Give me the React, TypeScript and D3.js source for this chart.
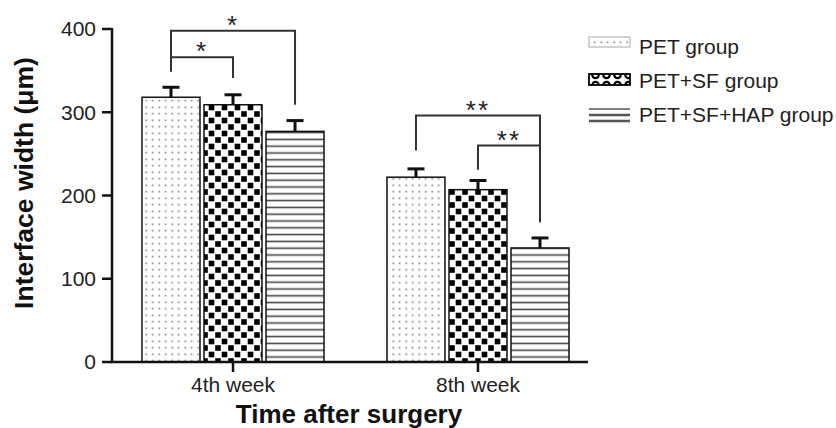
import React from 'react'
import * as d3 from 'd3'

const weeks = ['4th week', '8th week']
const groups = ['PET group', 'PET+SF group', 'PET+SF+HAP group']
const means = [
  [318, 309, 277],
  [222, 207, 137],
]
const errors = [
  [12, 12, 13],
  [10, 11, 12],
]
const yTicks = [0, 100, 200, 300, 400]
// significance brackets, heights in data units
const brackets = [
  { week: 0, a: 0, b: 2, y: 398, aEnd: 349, bEnd: 309, label: '*' },
  { week: 0, a: 0, b: 1, y: 366, aEnd: 349, bEnd: 341, label: '*' },
  { week: 1, a: 0, b: 2, y: 296, aEnd: 254, bEnd: 168, label: '**' },
  { week: 1, a: 1, b: 2, y: 260, aEnd: 231, bEnd: 168, label: '**' },
]

const fills = ['url(#dots)', 'url(#checker)', 'url(#stripes)']
const font = '"Liberation Sans", Arial, Helvetica, sans-serif'

export default function App() {
  const width = 836
  const height = 428
  const axisX = 112
  const axisEnd = 588

  const y = d3.scaleLinear().domain([0, 400]).range([362, 29])
  const x0 = d3.scaleBand().domain(weeks).range([142, 569]).paddingInner(0.257).paddingOuter(0)
  const x1 = d3.scaleBand().domain(groups).range([0, x0.bandwidth()]).paddingInner(0.065)

  const cx = (w: number, g: number) => x0(weeks[w])! + x1(groups[g])! + x1.bandwidth() / 2

  return (
    <svg width={width} height={height} style={{ position: 'absolute', left: 0, top: 0, background: '#fff' }} fontFamily={font}>
      <defs>
        <pattern id="dots" patternUnits="userSpaceOnUse" width={6.5} height={6.5}>
          <rect width={6.5} height={6.5} fill="#fff" />
          <circle cx={3.2} cy={3.2} r={0.9} fill="#777" />
        </pattern>
        <pattern id="checker" patternUnits="userSpaceOnUse" width={13} height={13}>
          <rect width={13} height={13} fill="#fff" />
          <rect x={0.7} y={0.7} width={5.6} height={5.6} fill="#000" />
          <rect x={7.2} y={7.2} width={5.6} height={5.6} fill="#000" />
        </pattern>
        <pattern id="stripes" patternUnits="userSpaceOnUse" width={8} height={6.8}>
          <rect width={8} height={6.8} fill="#fff" />
          <line x1={0} x2={8} y1={3.4} y2={3.4} stroke="#444" strokeWidth={1.6} />
        </pattern>
        <pattern id="rings" patternUnits="userSpaceOnUse" width={11} height={10} x={590} y={0}>
          <rect width={11} height={10} fill="#fff" />
          <circle cx={5.5} cy={5} r={3.2} fill="none" stroke="#000" strokeWidth={2.2} />
        </pattern>
      </defs>

      {/* bars */}
      {means.map((row, w) => row.map((v, g) => (
        <rect key={`b${w}${g}`}
          x={x0(weeks[w])! + x1(groups[g])!}
          y={y(v)}
          width={x1.bandwidth()}
          height={y(0) - y(v)}
          fill={fills[g]}
          stroke="#111"
          strokeWidth={1.5} />
      )))}

      {/* error bars */}
      {means.map((row, w) => row.map((v, g) => {
        const c = cx(w, g)
        const top = y(v + errors[w][g])
        return (
          <g key={`e${w}${g}`} stroke="#111" strokeWidth={3}>
            <line x1={c} x2={c} y1={y(v)} y2={top} />
            <line x1={c - 8.5} x2={c + 8.5} y1={top} y2={top} />
          </g>
        )
      }))}

      {/* axes */}
      <g stroke="#111" strokeWidth={2.5}>
        <line x1={axisX} x2={axisX} y1={y(400) - 1} y2={y(0) + 1} />
        <line x1={axisX - 1} x2={axisEnd} y1={y(0)} y2={y(0)} />
        {yTicks.map(t => (
          <line key={t} x1={axisX - 10} x2={axisX} y1={y(t)} y2={y(t)} />
        ))}
        {weeks.map(wk => {
          const c = x0(wk)! + x0.bandwidth() / 2
          return <line key={wk} x1={c} x2={c} y1={y(0)} y2={y(0) + 10} />
        })}
      </g>
      {yTicks.map(t => (
        <text key={t} x={axisX - 16} y={y(t)} dy="0.35em" textAnchor="end" fontSize={21} fill="#222">{t}</text>
      ))}
      {weeks.map(wk => (
        <text key={wk} x={x0(wk)! + x0.bandwidth() / 2} y={392} textAnchor="middle" fontSize={21} fill="#222">{wk}</text>
      ))}

      {/* titles */}
      <text x={349} y={423} textAnchor="middle" fontSize={26} fontWeight="bold" fill="#111">Time after surgery</text>
      <text transform={`translate(33,${183}) rotate(-90)`} textAnchor="middle" fontSize={26.5} fontWeight="bold" fill="#111">Interface width (μm)</text>

      {/* significance brackets */}
      {brackets.map((b, i) => {
        const xa = cx(b.week, b.a)
        const xb = cx(b.week, b.b)
        const yy = y(b.y)
        return (
          <g key={`s${i}`}>
            <path d={`M${xa},${y(b.aEnd)}V${yy}H${xb}V${y(b.bEnd)}`} fill="none" stroke="#333" strokeWidth={2} />
            <text x={(xa + xb) / 2} y={yy + 3} textAnchor="middle" fontSize={26} letterSpacing={2} fill="#222">{b.label}</text>
          </g>
        )
      })}

      {/* legend */}
      {groups.map((g, i) => {
        const cy = 46 + i * 34
        return (
          <g key={g}>
            {i === 0 && <rect x={589} y={cy - 9} width={41} height={10} fill="url(#dots)" stroke="#aaa" strokeWidth={1} />}
            {i === 1 && <rect x={589} y={cy - 6} width={41} height={11} fill="url(#rings)" stroke="#000" strokeWidth={1.8} />}
            {i === 2 && (
              <g stroke="#555">
                <line x1={589} x2={630} y1={cy - 5} y2={cy - 5} strokeWidth={1.5} />
                <line x1={589} x2={630} y1={cy + 1} y2={cy + 1} strokeWidth={2.5} />
                <line x1={589} x2={630} y1={cy + 7} y2={cy + 7} strokeWidth={2.5} />
              </g>
            )}
            <text x={639} y={cy + 8} fontSize={21} fill="#222">{g}</text>
          </g>
        )
      })}
    </svg>
  )
}
